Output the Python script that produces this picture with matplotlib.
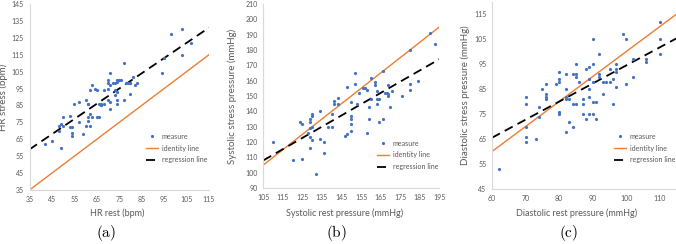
import matplotlib
matplotlib.use("Agg")
import matplotlib.pyplot as plt
import numpy as np

plt.rcParams['font.family'] = ['Lato', 'DejaVu Sans']
plt.rcParams['mathtext.fontset'] = 'cm'

# ---- Panel (a): heart rate ----
hr_rest = [42, 45, 48, 48, 49, 50, 50, 49, 53, 53, 54, 54, 54, 55, 57, 57, 59,
           60, 61, 61, 60, 61, 61, 62, 62, 62, 63, 63, 64, 65, 65, 66, 66, 67,
           67, 67, 68, 68, 70, 70, 70, 70, 71, 71, 71, 71, 72, 73, 74, 74, 75,
           76, 73, 74, 74, 73, 74, 77, 77, 78, 79, 80, 80, 80, 81, 82, 83, 94,
           95, 98, 103, 103, 107]
hr_stress = [62, 64, 70, 73, 74, 73, 78, 60, 79, 72, 72, 69, 67, 86, 87, 75, 68,
             88, 86, 86, 73, 78, 76, 80, 73, 94, 97, 78, 95, 94, 78, 78, 86, 85,
             85, 86, 86, 94, 100, 98, 95, 88, 104, 97, 87, 83, 98, 98, 100, 99,
             100, 100, 91, 88, 86, 94, 93, 110, 88, 98, 98, 98, 98, 92, 102, 97,
             98, 104, 113, 127, 130, 115, 122]
hr_reg_x = [35, 115]
hr_reg_y = [59, 131]

# ---- Panel (b): systolic pressure ----
sys_rest = [110, 120, 125, 124, 125, 129, 129, 130, 130, 129, 130, 128, 129, 130,
            129, 132, 134, 134, 136, 136, 138, 140, 140, 141, 141, 143, 143, 148,
            147, 148, 150, 150, 150, 150, 150, 152, 152, 153, 154, 156, 157, 158,
            158, 159, 159, 160, 160, 162, 162, 163, 163, 163, 164, 164, 166, 166,
            167, 168, 169, 169, 169, 170, 171, 176, 180, 180, 180, 184, 190, 193]
sys_stress = [120, 108, 109, 133, 132, 135, 133, 138, 137, 129, 130, 126, 123, 121,
              116, 99, 140, 122, 120, 113, 130, 130, 138, 147, 145, 149, 145, 156,
              124, 125, 146, 137, 135, 132, 127, 158, 165, 145, 152, 155, 155, 154,
              126, 135, 143, 162, 148, 157, 159, 153, 148, 145, 148, 133, 135, 166,
              152, 152, 151, 157, 150, 143, 153, 150, 180, 158, 154, 160, 191, 184]
sys_reg_x = [105, 195]
sys_reg_y = [108, 174]

# ---- Panel (c): diastolic pressure ----
dia_rest = [62, 70, 70, 70, 70, 70, 73, 74, 74, 75, 76, 76, 76, 76, 79, 80, 80, 80,
            80, 80, 82, 82, 82, 82, 82, 83, 83, 84, 85, 85, 84, 84, 85, 85, 86, 87,
            87, 87, 88, 88, 89, 89, 89, 89, 89, 90, 90, 90, 90, 90, 91, 91, 92, 92,
            92, 93, 93, 94, 95, 95, 96, 96, 97, 97, 97, 97, 99, 100, 100, 102, 102,
            106, 106, 110, 110, 110]
dia_stress = [53, 82, 79, 70, 66, 64, 65, 78, 74, 85, 87, 83, 82, 81, 87, 92, 89, 88,
              76, 75, 91, 85, 82, 81, 68, 81, 72, 91, 91, 90, 79, 70, 95, 79, 88, 81,
              79, 75, 93, 73, 94, 89, 85, 82, 75, 105, 95, 88, 80, 75, 80, 73, 99, 91,
              90, 83, 88, 88, 93, 88, 89, 79, 95, 93, 92, 86, 107, 105, 87, 97, 90,
              97, 96, 112, 105, 99]
dia_reg_x = [60, 115]
dia_reg_y = [65.5, 105.3]

x_labels = ['HR rest (bpm)', 'Systolic rest pressure (mmHg)', 'Diastolic rest pressure (mmHg)']
y_labels = ['HR stress (bpm)', 'Systolic stress pressure (mmHg)', 'Diastolic stress pressure (mmHg)']
panel_tags = ['(a)', '(b)', '(c)']

W, H = 676, 244
fig = plt.figure(figsize=(W / 100, H / 100), dpi=100)

BLUE = '#4472C4'
ORANGE = '#ED7D31'
GRAY_TXT = '#595959'
SPINE = '#D9D9D9'

def px_axes(l, r, t, b):
    return fig.add_axes([l / W, (H - b) / H, (r - l) / W, (b - t) / H])

panels = [
    dict(box=(29.5, 209, 4, 190), x=hr_rest, y=hr_stress, rx=hr_reg_x, ry=hr_reg_y,
         xlim=(35, 115), ylim=(35, 145), xt=np.arange(35, 116, 10), yt=np.arange(35, 146, 10),
         leg=(146, 148), ylabx=8, tagx=106, xlabx=117),
    dict(box=(263.3, 439.3, 4, 188), x=sys_rest, y=sys_stress, rx=sys_reg_x, ry=sys_reg_y,
         xlim=(105, 195), ylim=(90, 210), xt=np.arange(105, 196, 10), yt=np.arange(90, 211, 10),
         leg=(377, 155), ylabx=237, tagx=336, xlabx=345),
    dict(box=(492, 676, 2, 189), x=dia_rest, y=dia_stress, rx=dia_reg_x, ry=dia_reg_y,
         xlim=(60, 114.8), ylim=(45, 119.8), xt=np.arange(60, 111, 10), yt=np.arange(45, 116, 10),
         leg=(614, 148), ylabx=470, tagx=569, xlabx=577),
]

for i, p in enumerate(panels):
    l, r, t, b = p['box']
    ax = px_axes(l, r, t, b)
    ax.plot(p['x'], p['y'], linestyle='none', marker='o', ms=2.3, color=BLUE,
            markeredgewidth=0, label='measure', zorder=3)
    lo, hi = p['xlim'][0], max(p['xlim'][1], p['rx'][1])
    ax.plot([lo, hi], [lo, hi], color=ORANGE, lw=1.0, label='identity line', zorder=2)
    ax.plot(p['rx'], p['ry'], color='black', lw=1.3, dashes=(5, 3),
            label='regression line', zorder=2)
    ax.set_xlim(*p['xlim'])
    ax.set_ylim(*p['ylim'])
    ax.set_xticks(p['xt'])
    ax.set_yticks(p['yt'])
    ax.tick_params(length=0, labelsize=5, labelcolor=GRAY_TXT, pad=4)
    for s in ['top', 'right']:
        ax.spines[s].set_visible(False)
    for s in ['left', 'bottom']:
        ax.spines[s].set_color(SPINE)
        ax.spines[s].set_linewidth(0.8)
    ax.set_ylabel(y_labels[i], fontsize=7, color=GRAY_TXT)
    ax.yaxis.set_label_coords((p['ylabx'] - l) / (r - l), 0.5)
    lx, ly = p['leg']
    leg = ax.legend(loc='center left',
                    bbox_to_anchor=((lx - l) / (r - l), (b - ly) / (b - t)),
                    frameon=False, fontsize=5.1, handlelength=1.7,
                    handletextpad=0.5, labelspacing=0.7, borderpad=0,
                    borderaxespad=0)
    for tx in leg.get_texts():
        tx.set_color(GRAY_TXT)
    fig.text(p['xlabx'] / W, 1 - 213.5 / H, x_labels[i], ha='center', va='center',
             fontsize=6.5, color=GRAY_TXT)
    fig.text(p['tagx'] / W, 1 - 233 / H, r'$\mathrm{' + panel_tags[i] + '}$',
             ha='center', va='center', fontsize=11)

fig.savefig('out.png', dpi=100)
